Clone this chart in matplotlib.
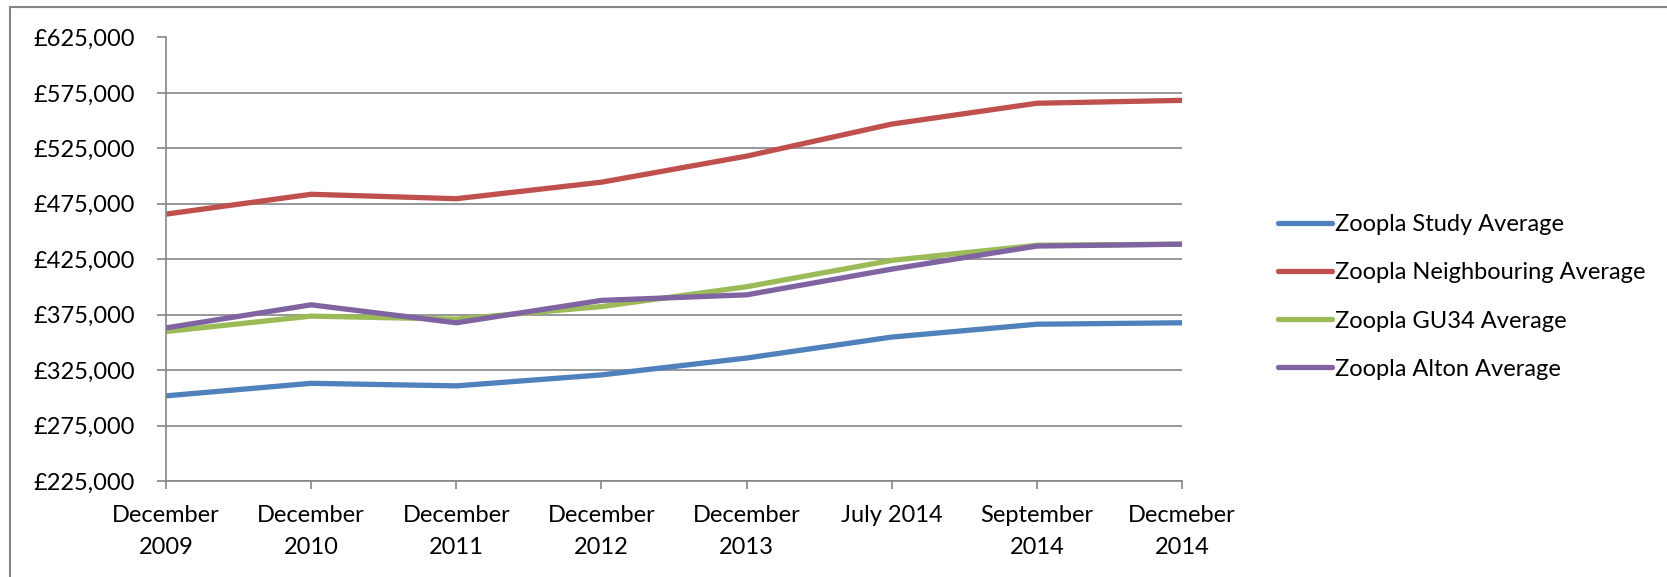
import matplotlib
matplotlib.use('Agg')
import matplotlib.pyplot as plt
from matplotlib.patches import Rectangle
from matplotlib.ticker import FuncFormatter

plt.rcParams['font.family'] = ['Lato', 'DejaVu Sans']

# category labels along the x axis
periods = ['December\n2009', 'December\n2010', 'December\n2011', 'December\n2012',
           'December\n2013', 'July 2014', 'September\n2014', 'Decmeber\n2014']

# average prices (GBP)
study = [301800, 313100, 310800, 320700, 335900, 354800, 366400, 367700]
neighbouring = [465700, 483600, 479600, 494500, 518000, 546900, 565700, 568300]
gu34 = [359800, 373700, 371000, 382300, 400200, 424000, 437600, 438600]
alton = [363100, 383900, 367700, 387900, 392900, 416100, 436900, 438600]

series = [
    ('Zoopla Study Average', study, '#4F81BD'),
    ('Zoopla Neighbouring Average', neighbouring, '#C0504D'),
    ('Zoopla GU34 Average', gu34, '#9BBB59'),
    ('Zoopla Alton Average', alton, '#8064A2'),
]

grey = '#868686'
fs = 17

fig = plt.figure(figsize=(16.67, 5.77), dpi=100)
ax = fig.add_axes([166 / 1667, 1 - 481 / 577, (1182 - 166) / 1667, (481 - 37.5) / 577])

x = list(range(len(periods)))
for name, vals, col in series:
    ax.plot(x, vals, color=col, lw=3.8, label=name, solid_capstyle='round',
            solid_joinstyle='round')

ax.set_xlim(0, len(periods) - 1)
ax.set_ylim(225000, 625000)
ax.set_yticks(range(225000, 625001, 50000))
ax.yaxis.set_major_formatter(FuncFormatter(lambda v, p: '£{:,.0f}'.format(v)))
ax.set_xticks(x)
ax.set_xticklabels(periods, linespacing=1.65)

ax.grid(axis='y', color=grey, lw=1.2)
ax.set_axisbelow(True)
for s in ['top', 'right']:
    ax.spines[s].set_visible(False)
for s in ['left', 'bottom']:
    ax.spines[s].set_color(grey)
    ax.spines[s].set_linewidth(1.2)
ax.tick_params(axis='y', length=6.5, width=1.2, color=grey, pad=16, labelsize=fs)
ax.tick_params(axis='x', length=6, width=1.2, color=grey, pad=11, labelsize=fs)

fig.legend(loc='center left', bbox_to_anchor=(1278 / 1667, 1 - 297 / 577),
           frameon=False, fontsize=fs, handlelength=2.3, handletextpad=0.1,
           labelspacing=1.15, borderpad=0, borderaxespad=0)

# outer chart border (cut off at right and bottom)
fig.patches.append(Rectangle((10 / 1667, -0.1), 1.2, 1.1 - 7 / 577,
                             transform=fig.transFigure, fill=False,
                             edgecolor=grey, lw=1.5))

fig.savefig('out.png', dpi=100)
